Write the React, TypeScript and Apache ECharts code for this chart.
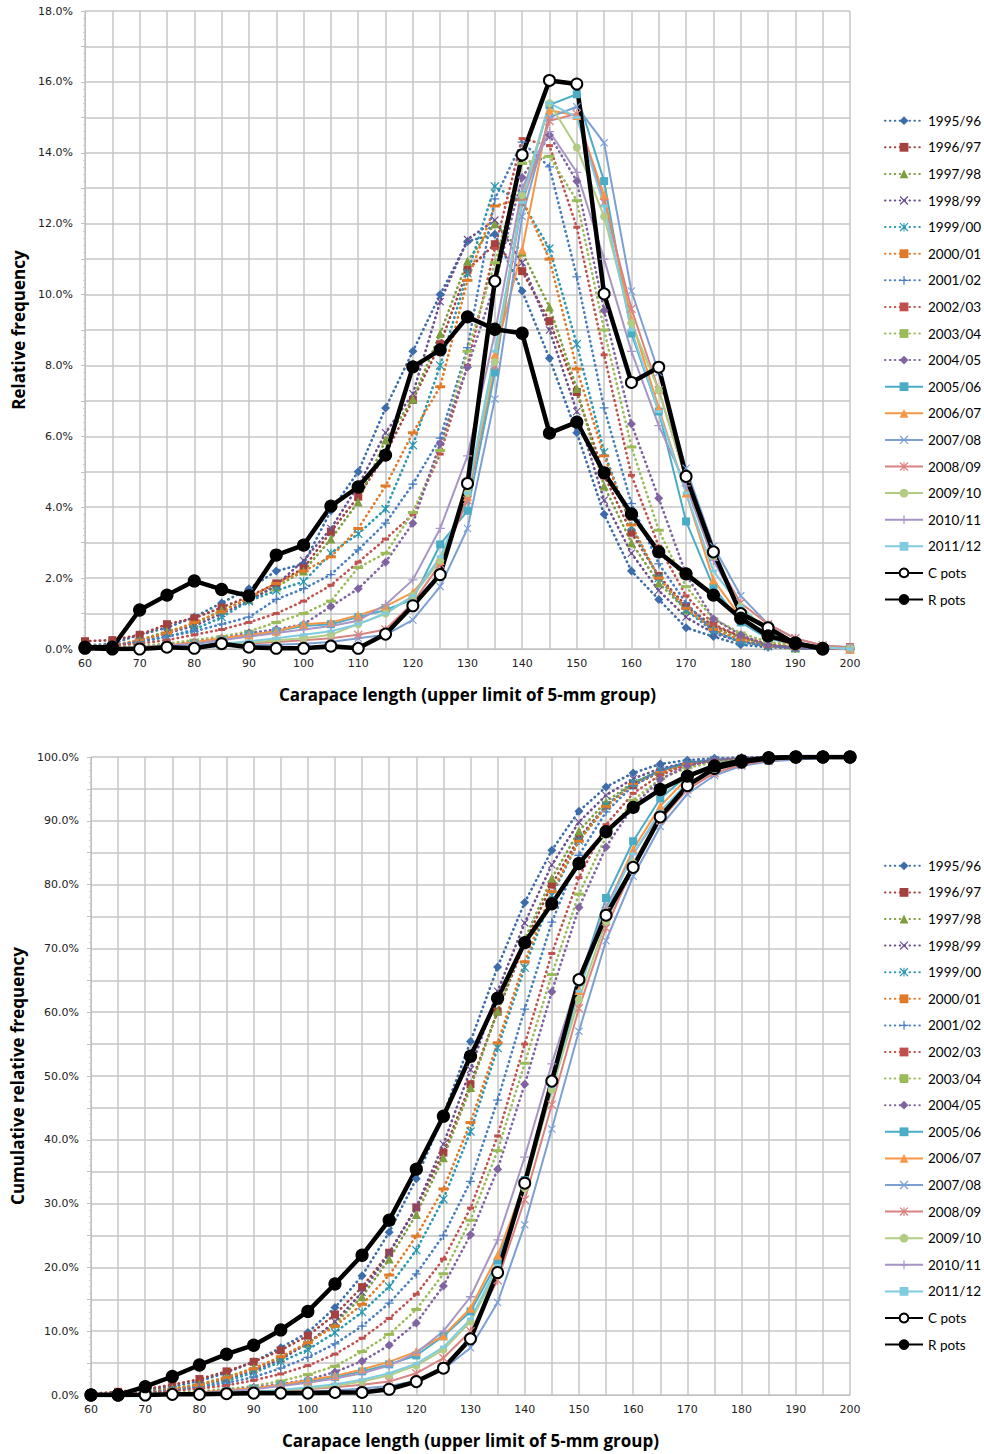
import React, { useEffect, useRef } from 'react';
import * as echarts from 'echarts';

// Carapace length classes (upper limit of 5-mm group)
const lengths = ['60','65','70','75','80','85','90','95','100','105','110','115','120','125','130','135','140','145','150','155','160','165','170','175','180','185','190','195','200'];

const seriesNames = ['1995/96','1996/97','1997/98','1998/99','1999/00','2000/01','2001/02','2002/03','2003/04','2004/05','2005/06','2006/07','2007/08','2008/09','2009/10','2010/11','2011/12','C pots','R pots'];

// Relative frequency (%)
const rf9596 = [0.1,0.15,0.4,0.6,0.9,1.3,1.7,2.2,2.4,3.9,5.0,6.8,8.4,10.0,11.5,11.7,10.1,8.2,6.1,3.8,2.2,1.4,0.6,0.35,0.12,0.05,0.02,0,0];
const rf9697 = [0.22,0.25,0.4,0.7,0.87,1.17,1.48,1.85,2.28,3.31,4.3,5.5,7.03,8.6,10.7,11.42,10.66,9.25,7.25,4.9,3.28,2.06,1.21,0.65,0.35,0.1,0.05,0.02,0.05];
const rf9798 = [0.1,0.1,0.25,0.5,0.7,1.1,1.4,1.75,2.2,3.1,4.15,5.9,7.05,8.9,10.95,12.0,11.2,9.65,7.35,4.6,3.0,1.86,1.1,0.6,0.3,0.1,0.03,0.01,0];
const rf9899 = [0.05,0.1,0.2,0.45,0.65,1.0,1.35,1.8,2.5,3.4,4.6,6.1,7.2,9.8,11.55,12.1,10.9,9.0,6.7,4.2,2.7,1.65,0.9,0.45,0.2,0.1,0.03,0.01,0];
const rf9900 = [0.05,0.1,0.2,0.35,0.55,0.9,1.35,1.65,1.9,2.7,3.25,3.95,5.75,8.0,10.6,13.05,12.6,11.3,8.6,5.55,3.45,2.0,1.1,0.5,0.2,0.08,0.03,0.01,0];
const rf0001 = [0.05,0.1,0.25,0.45,0.75,1.05,1.45,1.85,2.2,2.6,3.4,4.6,6.1,7.4,10.4,12.5,12.7,11.0,7.9,5.45,3.5,2.0,1.15,0.55,0.25,0.08,0.03,0.01,0];
const rf0102 = [0.05,0.1,0.2,0.35,0.5,0.7,0.9,1.4,1.7,2.1,2.8,3.55,4.65,5.95,8.5,12.7,14.3,13.6,10.5,6.8,4.1,2.4,1.3,0.5,0.2,0.1,0.03,0.01,0];
const rf0203 = [0.05,0.1,0.15,0.25,0.4,0.55,0.75,1.0,1.35,1.8,2.45,3.1,3.8,5.5,8.0,11.3,14.4,14.2,11.9,8.3,4.9,2.9,1.5,0.7,0.35,0.15,0.05,0.02,0];
const rf0304 = [0.02,0.05,0.08,0.15,0.25,0.35,0.5,0.75,1.0,1.35,2.3,2.7,3.85,5.6,8.4,10.9,13.7,13.9,12.65,9.0,5.7,3.35,1.76,0.85,0.45,0.2,0.1,0.05,0.02];
const rf0405 = [0.02,0.03,0.05,0.1,0.2,0.3,0.45,0.55,0.7,1.2,1.7,2.45,3.55,5.8,7.95,10.3,13.3,14.5,13.2,9.55,6.35,4.25,2.1,0.85,0.4,0.1,0.03,0.01,0];
const rf0506 = [0.02,0.02,0.05,0.1,0.15,0.25,0.4,0.5,0.65,0.7,0.9,1.1,1.4,2.95,3.9,7.8,12.8,15.35,15.65,13.2,8.9,6.7,3.6,1.75,0.75,0.3,0.12,0.05,0.02];
const rf0607 = [0,0.02,0.05,0.1,0.2,0.3,0.4,0.5,0.7,0.75,0.95,1.2,1.6,2.5,4.3,8.3,11.26,15.2,15.05,12.8,9.3,6.8,4.4,1.95,0.9,0.35,0.1,0.03,0];
const rf0708 = [0,0,0,0.02,0.05,0.08,0.1,0.12,0.15,0.2,0.3,0.4,0.82,1.76,3.4,7.05,12.2,15.0,15.3,14.28,10.1,7.8,5.1,2.9,1.5,0.7,0.3,0.1,0.05];
const rf0809 = [0,0,0.02,0.05,0.08,0.1,0.15,0.2,0.25,0.3,0.4,0.55,1.3,2.4,4.2,8.0,12.6,14.9,15.1,12.6,9.6,7.3,4.8,2.6,1.3,0.7,0.3,0.1,0.05];
const rf0910 = [0,0,0.02,0.05,0.08,0.12,0.18,0.25,0.3,0.4,0.7,1.0,1.5,2.5,4.4,8.1,12.8,15.4,14.15,12.2,9.2,7.3,4.8,2.6,1.2,0.5,0.15,0.05,0.02];
const rf1011 = [0,0.02,0.05,0.1,0.15,0.25,0.35,0.45,0.55,0.65,0.8,1.25,1.95,3.4,5.45,8.9,13.0,14.6,13.45,11.0,8.4,6.3,4.6,2.5,1.1,0.5,0.15,0.05,0];
const rf1112 = [0,0,0.02,0.05,0.1,0.15,0.22,0.3,0.4,0.5,0.7,1.0,1.5,2.6,4.4,8.4,12.6,15.4,15.0,12.5,9.0,6.7,4.4,2.2,1.2,0.45,0.15,0.05,0];
const rfCpots = [0.02,0,0,0.05,0.02,0.15,0.05,0.02,0.02,0.08,0.02,0.42,1.22,2.1,4.67,10.38,13.94,16.04,15.94,10.02,7.52,7.95,4.87,2.74,1.0,0.6,0.15,0.02,null];
const rfRpots = [0.05,0.05,1.1,1.52,1.92,1.68,1.5,2.65,2.93,4.03,4.57,5.47,7.96,8.44,9.37,9.02,8.91,6.09,6.4,4.97,3.81,2.74,2.12,1.52,0.87,0.37,0.17,0,null];

// Cumulative relative frequency (%)
const cf9596 = [0.1,0.3,0.7,1.3,2.2,3.5,5.2,7.4,9.8,13.7,18.7,25.5,33.9,43.9,55.4,67.1,77.2,85.4,91.5,95.3,97.5,98.9,99.5,99.8,99.9,100,100,100,100];
const cf9697 = [0.2,0.5,0.9,1.6,2.5,3.7,5.2,7.0,9.3,12.6,16.9,22.3,29.4,38.0,48.7,60.1,70.8,80.0,87.3,92.4,95.6,97.6,98.8,99.4,99.7,99.8,99.9,99.9,100];
const cf9798 = [0.1,0.2,0.5,1.0,1.7,2.8,4.2,5.9,8.1,11.2,15.4,21.3,28.3,37.2,48.2,60.2,71.4,81.0,88.4,93.0,96.0,97.8,98.9,99.5,99.8,99.9,100,100,100];
const cf9899 = [0.1,0.2,0.4,0.8,1.5,2.5,3.8,5.6,8.1,11.5,16.1,22.2,29.4,39.3,51.0,63.3,74.0,83.1,89.8,94.0,96.6,98.2,99.1,99.5,99.7,99.8,99.9,100,100];
const cf9900 = [0.1,0.2,0.4,0.7,1.3,2.2,3.5,5.2,7.1,9.8,13.0,17.0,22.7,30.7,41.3,54.4,67.0,78.3,86.9,92.4,95.9,97.9,99.0,99.5,99.7,99.8,99.9,100,100];
const cf0001 = [0.1,0.2,0.4,0.9,1.6,2.7,4.1,6.0,8.2,10.8,14.2,18.8,24.9,32.3,42.7,55.2,67.9,78.9,86.8,92.2,95.7,97.7,98.9,99.4,99.7,99.8,99.9,100,100];
const cf0102 = [0.1,0.2,0.4,0.7,1.2,1.9,2.8,4.2,5.9,8.0,10.8,14.4,19.0,25.0,33.5,46.2,60.5,74.1,84.6,91.4,95.5,97.9,99.2,99.7,99.9,100,100,100,100];
const cf0203 = [0.1,0.2,0.3,0.6,1.0,1.5,2.3,3.3,4.6,6.4,8.9,12.0,15.8,21.3,29.3,40.6,55.0,69.2,81.1,89.4,94.3,97.2,98.7,99.4,99.7,99.9,100,100,100];
const cf0304 = [0.0,0.1,0.2,0.3,0.6,0.9,1.4,2.2,3.2,4.5,6.8,9.5,13.4,19.0,27.4,38.3,52.0,65.9,78.5,87.5,93.2,96.6,98.3,99.2,99.6,99.8,99.9,100,100];
const cf0405 = [0.0,0.1,0.1,0.2,0.4,0.7,1.2,1.7,2.4,3.6,5.3,7.8,11.3,17.1,25.1,35.4,48.7,63.2,76.4,85.9,92.3,96.5,98.6,99.5,99.9,100,100,100,100];
const cf0506 = [0.0,0.0,0.1,0.2,0.3,0.6,1.0,1.5,2.1,2.8,3.7,4.8,6.2,9.2,13.1,20.9,33.7,49.0,64.7,77.9,86.8,93.5,97.1,98.8,99.6,99.9,100,100,100];
const cf0607 = [0,0,0.1,0.2,0.4,0.7,1.1,1.6,2.3,3.0,4.0,5.2,6.8,9.3,13.6,21.9,33.1,48.3,63.4,76.2,85.5,92.3,96.7,98.6,99.5,99.9,100,100,100];
const cf0708 = [0,0,0,0,0.1,0.2,0.3,0.4,0.5,0.7,1.0,1.4,2.2,4.0,7.4,14.5,26.7,41.7,57.0,71.2,81.3,89.1,94.2,97.1,98.6,99.3,99.6,99.8,100];
const cf0809 = [0,0,0,0.1,0.2,0.3,0.4,0.6,0.9,1.2,1.6,2.1,3.4,5.8,10.0,18.0,30.6,45.5,60.6,73.2,82.8,90.1,94.9,97.5,98.8,99.5,99.8,99.9,100];
const cf0910 = [0,0,0,0.1,0.2,0.3,0.5,0.7,1.0,1.4,2.1,3.1,4.6,7.1,11.5,19.6,32.4,47.8,62.0,74.2,83.4,90.7,95.5,98.1,99.3,99.8,99.9,100,100];
const cf1011 = [0,0,0.1,0.2,0.3,0.6,0.9,1.4,1.9,2.6,3.4,4.6,6.6,10.0,15.4,24.3,37.3,51.9,65.4,76.4,84.8,91.1,95.7,98.2,99.3,99.8,99.9,100,100];
const cf1112 = [0,0,0,0.1,0.2,0.3,0.5,0.8,1.2,1.7,2.4,3.4,4.9,7.5,11.9,20.3,32.9,48.3,63.3,75.8,84.8,91.5,95.9,98.1,99.3,99.8,99.9,100,100];
const cfCpots = [0,0,0,0.1,0.1,0.2,0.3,0.3,0.3,0.4,0.4,0.9,2.1,4.2,8.8,19.2,33.2,49.2,65.1,75.2,82.7,90.6,95.5,98.2,99.2,99.8,100,100,100];
const cfRpots = [0,0,1.3,2.9,4.7,6.4,7.8,10.2,13.1,17.4,21.9,27.4,35.4,43.7,53.1,62.2,70.9,77.0,83.3,88.3,92.1,94.9,97.0,98.6,99.4,99.9,100,100,100];

const relData = [rf9596, rf9697, rf9798, rf9899, rf9900, rf0001, rf0102, rf0203, rf0304, rf0405, rf0506, rf0607, rf0708, rf0809, rf0910, rf1011, rf1112, rfCpots, rfRpots];
const cumData = [cf9596, cf9697, cf9798, cf9899, cf9900, cf0001, cf0102, cf0203, cf0304, cf0405, cf0506, cf0607, cf0708, cf0809, cf0910, cf1011, cf1112, cfCpots, cfRpots];

const X_SYM = 'path://M1,0 L5,4 L9,0 L10,1 L6,5 L10,9 L9,10 L5,6 L1,10 L0,9 L4,5 L0,1 Z';
const PLUS_SYM = 'path://M4.3,0 H5.7 V4.3 H10 V5.7 H5.7 V10 H4.3 V5.7 H0 V4.3 H4.3 Z';
const AST_SYM = 'path://M1,0 L5,4 L9,0 L10,1 L6,5 L10,9 L9,10 L5,6 L1,10 L0,9 L4,5 L0,1 Z M4.4,0 H5.6 V10 H4.4 Z';

type Sty = { color: string; symbol: string; size: number | number[]; kind: 'dot' | 'solid' | 'black' };
const styles: Sty[] = [
  { color: '#3C6DAA', symbol: 'diamond', size: 9, kind: 'dot' },
  { color: '#A4403E', symbol: 'rect', size: 8, kind: 'dot' },
  { color: '#7E9E3F', symbol: 'triangle', size: 9, kind: 'dot' },
  { color: '#6A4F8F', symbol: X_SYM, size: 8, kind: 'dot' },
  { color: '#2C97B0', symbol: AST_SYM, size: 9, kind: 'dot' },
  { color: '#E07A28', symbol: 'rect', size: [10, 3], kind: 'dot' },
  { color: '#4A7EC0', symbol: PLUS_SYM, size: 9, kind: 'dot' },
  { color: '#C0504D', symbol: 'rect', size: [7, 3], kind: 'dot' },
  { color: '#9BBB59', symbol: 'rect', size: [10, 3], kind: 'dot' },
  { color: '#8064A2', symbol: 'diamond', size: 9, kind: 'dot' },
  { color: '#4BACC6', symbol: 'rect', size: 8, kind: 'solid' },
  { color: '#F79646', symbol: 'triangle', size: 9, kind: 'solid' },
  { color: '#7C9FD4', symbol: X_SYM, size: 8, kind: 'solid' },
  { color: '#DA8280', symbol: AST_SYM, size: 9, kind: 'solid' },
  { color: '#B2CB85', symbol: 'circle', size: 8, kind: 'solid' },
  { color: '#A795C3', symbol: PLUS_SYM, size: 9, kind: 'solid' },
  { color: '#7FCCE0', symbol: 'rect', size: [7, 3], kind: 'solid' },
  { color: '#000000', symbol: 'emptyCircle', size: 11, kind: 'black' },
  { color: '#000000', symbol: 'circle', size: 12, kind: 'black' },
];

const gridColor = '#C6C6C6';
const tickFont = { fontFamily: 'DejaVu Sans', fontSize: 11, color: '#222' };
const titleFont = { fontFamily: 'Open Sans', fontWeight: 'bold' as const, fontSize: 17, color: '#000' };

function xAxisCfg(gridIndex: number) {
  return {
    type: 'category', gridIndex, data: lengths, boundaryGap: false,
    axisLine: { lineStyle: { color: '#BFBFBF', width: 1 } },
    axisTick: { show: false },
    axisLabel: { interval: 1, margin: 9, ...tickFont },
    splitLine: { show: true, interval: 0, lineStyle: { color: gridColor, width: 1.5 } },
    name: 'Carapace length (upper limit of 5-mm group)', nameLocation: 'middle', nameGap: 36.5,
    nameTextStyle: titleFont,
  };
}

function yAxisCfg(gridIndex: number, max: number, interval: number, labelEvery: number, name: string, nameGap: number) {
  return {
    type: 'value', gridIndex, min: 0, max, interval,
    axisLine: { show: true, lineStyle: { color: '#BFBFBF' } },
    axisTick: { show: true, length: 4, lineStyle: { color: '#BFBFBF' } },
    minorTick: { show: true, splitNumber: 5, length: 2, lineStyle: { color: '#CFCFCF' } },
    axisLabel: {
      margin: 12, ...tickFont,
      formatter: (v: number) => (Math.round(v) % labelEvery === 0 ? v.toFixed(1) + '%' : ''),
    },
    splitLine: { show: true, lineStyle: { color: gridColor, width: 1.5 } },
    name, nameLocation: 'middle', nameGap, nameTextStyle: titleFont,
  };
}

function mkSeries(i: number, gi: number, data: (number | null)[]) {
  const st = styles[i];
  let lineStyle: any;
  if (st.kind === 'dot') lineStyle = { color: st.color, width: 2.6, type: [0.5, 4.4], cap: 'round' };
  else if (st.kind === 'solid') lineStyle = { color: st.color, width: 2 };
  else lineStyle = { color: '#000', width: 4.5 };
  return {
    name: seriesNames[i], type: 'line', xAxisIndex: gi, yAxisIndex: gi, data,
    symbol: st.symbol, symbolSize: st.size, showSymbol: true, showAllSymbol: true,
    itemStyle: st.kind === 'black' ? { color: '#000', borderColor: '#000', borderWidth: 1.2 } : { color: st.color },
    lineStyle, emphasis: { disabled: true }, silent: true,
  };
}

function legendCfg(top: number) {
  return {
    data: seriesNames, orient: 'vertical', left: 884, top, padding: 0,
    itemWidth: 38, itemHeight: 11, itemGap: 12.6, selectedMode: false,
    textStyle: { fontFamily: 'Lato', fontSize: 13.5, color: '#000', lineHeight: 11 },
  };
}

const option: any = {
  animation: false,
  backgroundColor: '#ffffff',
  grid: [
    { left: 85, top: 11, width: 765, height: 638 },
    { left: 91, top: 757, width: 759, height: 638 },
  ],
  xAxis: [xAxisCfg(0), xAxisCfg(1)],
  yAxis: [
    yAxisCfg(0, 18, 1, 2, 'Relative frequency', 55),
    yAxisCfg(1, 100, 5, 10, 'Cumulative relative frequency', 61),
  ],
  legend: [legendCfg(113.7), legendCfg(858.8)],
  series: [
    ...relData.map((d, i) => mkSeries(i, 0, d)),
    ...cumData.map((d, i) => mkSeries(i, 1, d)),
  ],
};

export default function App() {
  const ref = useRef<HTMLDivElement>(null);
  useEffect(() => {
    const chart = echarts.init(ref.current!, null, { renderer: 'svg' });
    chart.setOption(option);
    return () => chart.dispose();
  }, []);
  return (
    <div
      ref={ref}
      style={{ position: 'absolute', left: 0, top: 0, width: 984, height: 1454, background: '#fff' }}
    />
  );
}
